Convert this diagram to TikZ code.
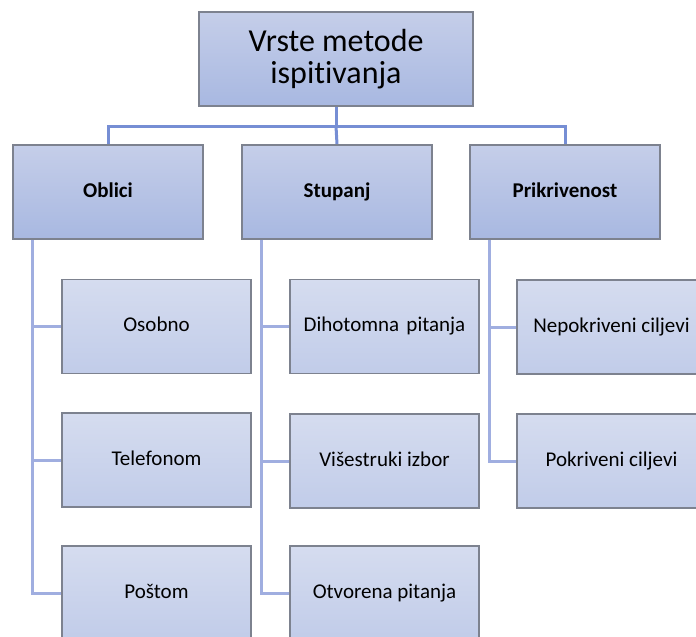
\documentclass[tikz,border=0pt]{standalone}
\usepackage{fontspec}
\setmainfont{Carlito}[Ligatures={NoCommon}]
\usetikzlibrary{backgrounds}
\definecolor{topA}{RGB}{197,206,233}
\definecolor{botA}{RGB}{168,184,225}
\definecolor{topB}{RGB}{213,220,239}
\definecolor{botB}{RGB}{193,204,233}
\definecolor{edge}{RGB}{125,130,143}
\definecolor{busline}{RGB}{118,142,212}
\definecolor{subline}{RGB}{160,174,224}
\tikzset{
  boxbase/.style={draw=edge,line width=1.3pt,inner sep=2pt,align=center},
  boxA/.style={boxbase,top color=topA,bottom color=botA,
    minimum width=190pt,minimum height=94pt,text height=1.05em,text depth=0em,
    font=\fontsize{21}{21}\selectfont\bfseries},
  boxB/.style={boxbase,top color=topB,bottom color=botB,
    minimum width=189pt,minimum height=94pt,text height=1.05em,text depth=0em,
    font=\fontsize{21}{21}\selectfont},
  boxT/.style={boxbase,top color=topA,bottom color=botA,
    minimum width=274pt,minimum height=94pt,
    font=\fontsize{32}{32}\selectfont},
  bus/.style={draw=busline,line width=3pt},
  sub/.style={draw=subline,line width=3pt},
}
\begin{document}
\begin{tikzpicture}[x=1pt,y=-1pt]
\useasboundingbox (0,0) rectangle (696,637);
\clip (0,0) rectangle (696,637);
\coordinate (busy) at (0,126);
\node[boxT] (top) at (336,59) {Vrste metode\\ispitivanja};
\node[boxA] (a) at (108,192) {Oblici};
\node[boxA] (b) at (337,192) {Stupanj};
\node[boxA] (c) at (565,192) {Prikrivenost};
\node[boxB] (a1) at (156.5,326.5) {Osobno};
\node[boxB] (a2) at (156.5,460) {Telefonom};
\node[boxB] (a3) at (156.5,593) {Poštom};
\node[boxB] (b1) at (384.5,326.5) {Dihotomna\hspace{0.12em} pitanja};
\node[boxB] (b2) at (384.5,461) {Višestruki izbor};
\node[boxB] (b3) at (384.5,593) {Otvorena pitanja};
\node[boxB] (c1) at (611.5,327) {Nepokriveni ciljevi};
\node[boxB] (c2) at (611.5,461) {Pokriveni ciljevi};
\begin{scope}[on background layer]
\draw[bus] (top.south) -- (top.south |- busy);
\draw[bus] (a.north) |- (top.south |- busy) -| (c.north);
\draw[bus] (top.south |- busy) -- (b.north);
\foreach \p/\k in {a/a1,a/a2,a/a3,b/b1,b/b2,b/b3,c/c1,c/c2}{
  \draw[sub] ([xshift=20pt]\p.south west) |- (\k.west);
}
\end{scope}
\end{tikzpicture}
\end{document}
